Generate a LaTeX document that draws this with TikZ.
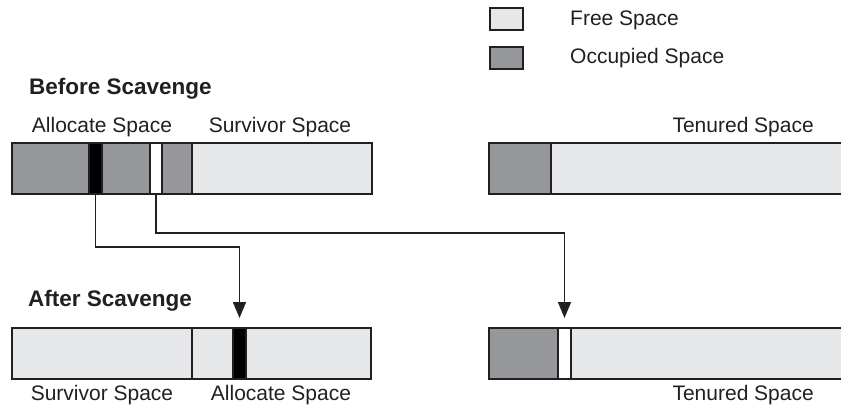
\documentclass[tikz,border=0pt]{standalone}
\usepackage{fontspec}
\setmainfont{Liberation Sans}
\usetikzlibrary{arrows.meta}
\definecolor{freec}{HTML}{E6E7E8}
\definecolor{occc}{HTML}{96979A}
\definecolor{inkc}{HTML}{231F20}
\tikzset{
  seg/.style={draw=inkc, line width=1.8pt, inner sep=0pt, outer sep=0pt,
              anchor=south west, minimum height=51pt},
  freeseg/.style={seg, fill=freec},
  occseg/.style={seg, fill=occc},
  liveseg/.style={seg, fill=black},
  deadseg/.style={seg, fill=white},
  keybox/.style={draw=inkc, line width=1.6pt, inner sep=0pt, anchor=south west,
                 minimum width=33pt, minimum height=22pt},
  lbl/.style={font=\fontsize{21}{25}\selectfont, text=inkc, inner sep=0pt},
  head/.style={font=\fontsize{22.5}{27}\selectfont\bfseries, text=inkc, inner sep=0pt, anchor=west},
  arr/.style={draw=inkc, line width=1.6pt, -{Triangle[width=13pt,length=16pt]}}
}
\begin{document}
\begin{tikzpicture}[x=1pt,y=1pt]
\useasboundingbox (0,0) rectangle (841,408);
\clip (0,0) rectangle (841,408);

% legend
\node[keybox, fill=freec] (kfree) at (489,377) {};
\node[keybox, fill=occc]  (kocc)  at (489,338) {};
\node[lbl, anchor=west] (tfree) at (570,388) {Free Space};
\node[lbl, anchor=west] (tocc)  at (570,350) {Occupied Space};

% before scavenge
\node[head] (hbefore) at (29,319) {Before Scavenge};
\node[lbl] (tallocA) at (102,281) {Allocate Space};
\node[lbl] (tsurvA)  at (280,281) {Survivor Space};
\node[lbl, anchor=east] (ttenA) at (814,281) {Tenured Space};

\node[occseg,  minimum width=77pt]  (a1)  at (12,214) {};
\node[liveseg, minimum width=13pt]  (blk) at (89,214) {};
\node[occseg,  minimum width=48pt]  (a2)  at (102,214) {};
\node[deadseg, minimum width=12pt]  (wht) at (150,214) {};
\node[occseg,  minimum width=30pt]  (a3)  at (162,214) {};
\node[freeseg, minimum width=180pt] (s1)  at (192,214) {};

\node[occseg,  minimum width=62pt]  (t1) at (489,214) {};
\node[freeseg, minimum width=300pt] (t2) at (551,214) {};

% after scavenge
\node[head] (hafter) at (28,107) {After Scavenge};

\node[freeseg, minimum width=180pt] (s2)   at (12,29) {};
\node[freeseg, minimum width=41pt]  (b1)   at (192,29) {};
\node[liveseg, minimum width=13pt]  (blk2) at (233,29) {};
\node[freeseg, minimum width=125pt] (b2)   at (246,29) {};

\node[occseg,  minimum width=69pt]  (u1)   at (489,29) {};
\node[deadseg, minimum width=13pt]  (wht2) at (558,29) {};
\node[freeseg, minimum width=280pt] (u2)   at (571,29) {};

\node[lbl] (tsurvB)  at (102,13) {Survivor Space};
\node[lbl] (tallocB) at (281,13) {Allocate Space};
\node[lbl, anchor=east] (ttenB) at (814,13) {Tenured Space};

% copy paths
\draw[arr] (blk.south) -- ++(0,-53) -| ([yshift=10pt]blk2.north);
\draw[arr] (wht.south) -- ++(0,-39) -| ([yshift=10pt]wht2.north);
\end{tikzpicture}
\end{document}
